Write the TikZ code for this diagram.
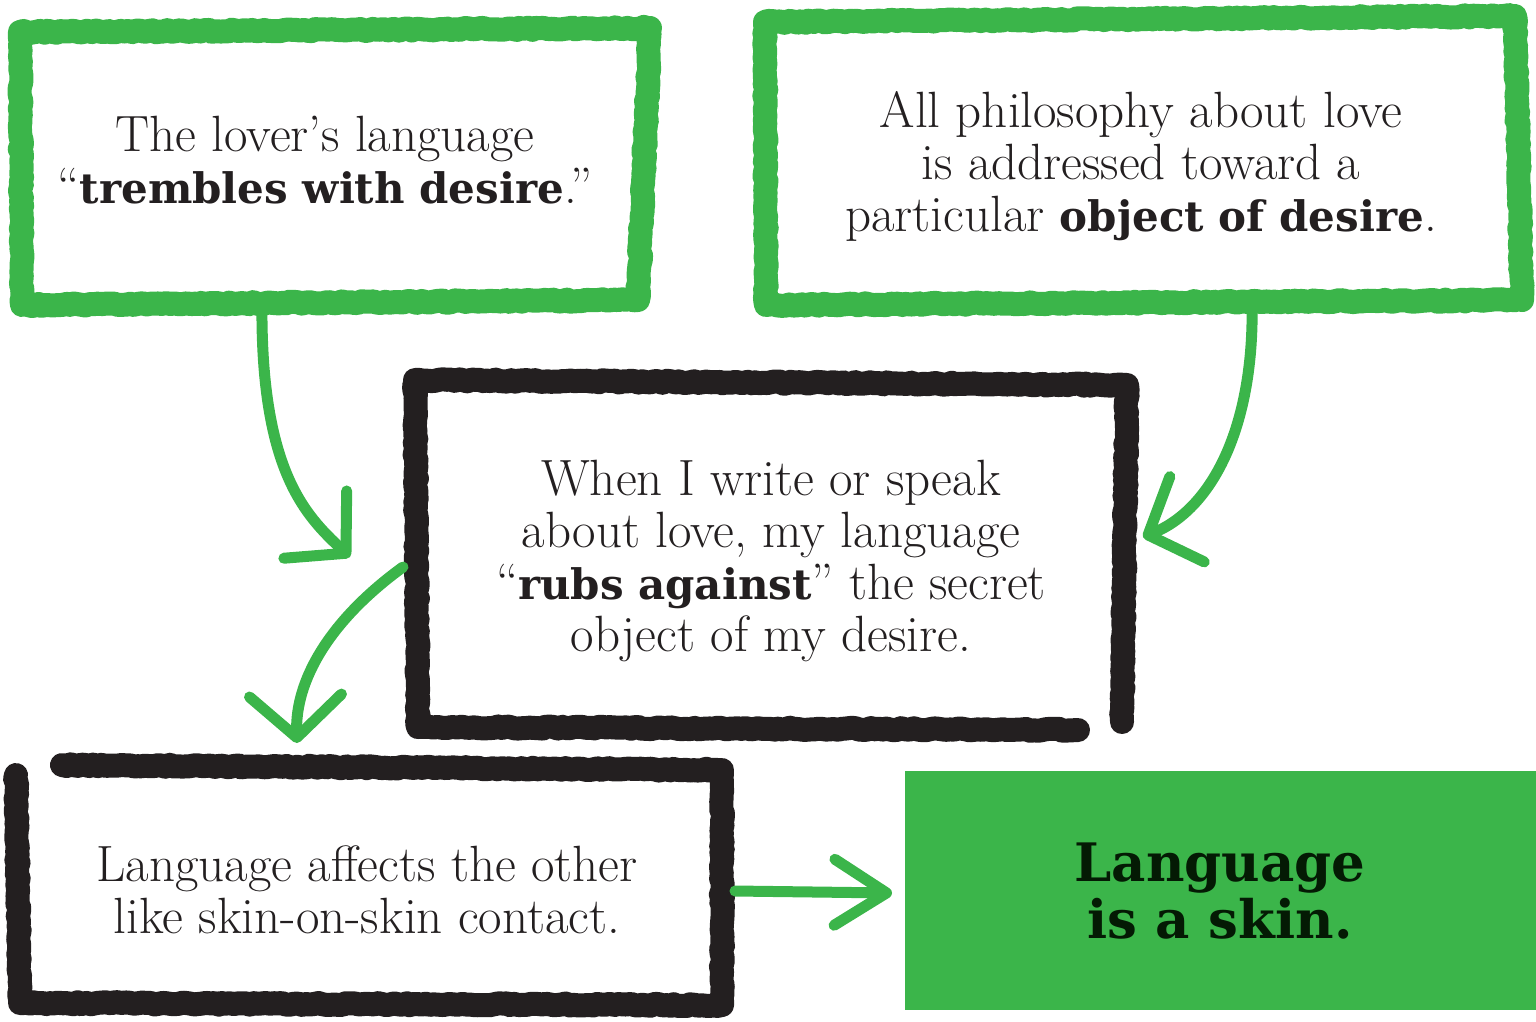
\documentclass[tikz,border=0pt]{standalone}
\usepackage{fontspec}
\usetikzlibrary{arrows.meta,decorations.pathmorphing}
\newfontfamily\slabfont{DejaVu Serif}
\definecolor{brushgreen}{HTML}{3BB54A}
\definecolor{ink}{HTML}{231F20}
\definecolor{deepgreen}{HTML}{041A04}
\newcommand{\slabbold}[1]{{\slabfont\bfseries\fontsize{42}{52}\selectfont #1}}
\tikzset{
  frame/.style={line width=24pt, line join=round, line cap=round,
    decorate, decoration={random steps, segment length=4pt, amplitude=1.1pt}},
  greenframe/.style={frame, draw=brushgreen},
  blackframe/.style={frame, draw=ink},
  bodytext/.style={align=center, text=ink, font=\fontsize{51}{52}\selectfont, inner sep=0pt},
  arrowline/.style={draw=brushgreen, line width=11pt, line cap=round,
    -{Straight Barb[round, length=42pt, width=92pt]}},
}
\begin{document}
\begin{tikzpicture}[x=1pt, y=-1pt]
\useasboundingbox (0,0) rectangle (1536,1021);
% frames
\draw[greenframe] (20,32) -- (650,28) -- (638,300) -- (22,305) -- cycle;
\draw[greenframe] (765,22) -- (1515,16) -- (1522,300) -- (766,305) -- cycle;
\draw[blackframe] (1078,730) -- (418,727) -- (415,380) -- (1127,385) -- (1122,722);
\draw[blackframe] (62,765) -- (722,770) -- (722,1005) -- (20,1003) -- (16,775);
% filled conclusion box
\node[fill=brushgreen, minimum width=631pt, minimum height=239pt, inner sep=0pt] (E) at (1220.5,890.5) {};
% texts
\node[bodytext] (tA) at (325,160) {The lover’s language\\“\slabbold{trembles with desire}.”};
\node[bodytext] (tB) at (1141,166) {All philosophy about love\\is addressed toward a\\particular \slabbold{object of desire}.};
\node[bodytext] (tC) at (771,561) {When I write or speak\\about love, my language\\“\slabbold{rubs against}” the secret\\object of my desire.};
\node[bodytext] (tD) at (367,890) {Language affects the other\\like skin-on-skin contact.};
\node[align=center, text=deepgreen, inner sep=0pt, font=\slabfont\bfseries\fontsize{53}{57}\selectfont] (tE) at (1220,891) {Language\\is a skin.};
% connector end points
\coordinate (a1s) at (262,300);
\coordinate (a1e) at (350,557);
\coordinate (a2s) at (1252,300);
\coordinate (a2e) at (1143,537);
\coordinate (a3s) at (403,567);
\coordinate (a3e) at (297,743);
\coordinate (a4s) at (735,891);
\coordinate (a4e) at (892,893);
% connectors
\draw[arrowline] (a1s) .. controls (260,470) and (305,515) .. (a1e);
\draw[arrowline] (a2s) .. controls (1255,430) and (1210,510) .. (a2e);
\draw[arrowline] (a3s) .. controls (330,620) and (295,680) .. (a3e);
\draw[arrowline, -{Straight Barb[round, length=52pt, width=66pt]}] (a4s) -- (a4e);
\end{tikzpicture}
\end{document}
